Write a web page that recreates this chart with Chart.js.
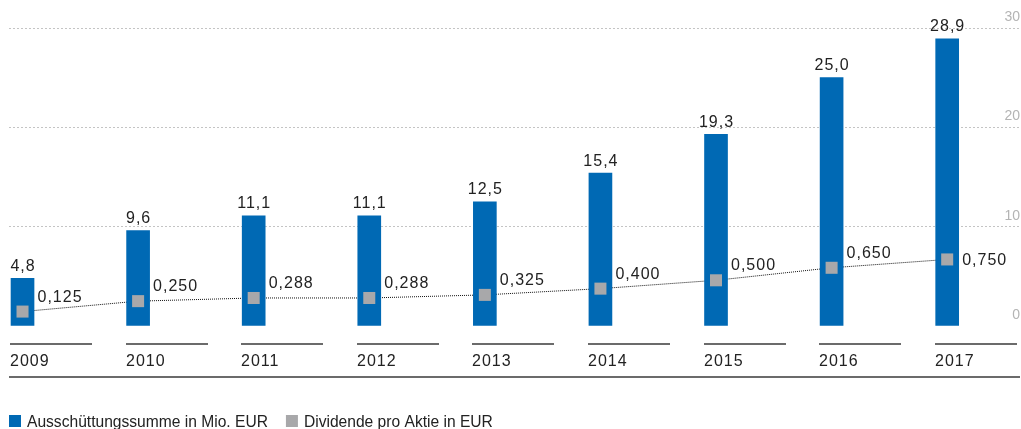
<!DOCTYPE html>
<html>
<head>
<meta charset="utf-8">
<script src="https://cdn.jsdelivr.net/npm/chart.js@4.4.1/dist/chart.umd.min.js"></script>
<style>
  html, body { margin: 0; padding: 0; background: #fff; }
  #wrap { width: 1021px; height: 429px; }
</style>
</head>
<body>
<div id="wrap"><canvas id="myChart" width="1021" height="429"></canvas></div>
<script>
var years = ['2009', '2010', '2011', '2012', '2013', '2014', '2015', '2016', '2017'];
var payout = [4.8, 9.6, 11.1, 11.1, 12.5, 15.4, 19.3, 25.0, 28.9];
var dividend = [0.125, 0.250, 0.288, 0.288, 0.325, 0.400, 0.500, 0.650, 0.750];
var payoutLabel = 'Ausschüttungssumme in Mio. EUR';
var dividendLabel = 'Dividende pro Aktie in EUR';

var blue = '#0069b4';
var grey = '#a8a8aa';
var dark = '#222222';
var rule = '#6b6b6b';
var FONT = '"Liberation Sans", Arial, Helvetica, sans-serif';

function toPoints(arr) {
    return arr.map(function (v, i) { return { x: i, y: v }; });
}
function comma(v, d) {
    return v.toFixed(d).replace('.', ',');
}

// value labels, year axis and legend
var extras = {
    id: 'extras',
    afterDatasetsDraw: function (chart) {
        var ctx = chart.ctx;
        ctx.save();
        ctx.font = '16px ' + FONT;
        ctx.letterSpacing = '1px';
        ctx.fillStyle = dark;
        ctx.textBaseline = 'alphabetic';

        // bar values
        ctx.textAlign = 'center';
        chart.getDatasetMeta(1).data.forEach(function (bar, i) {
            ctx.fillText(comma(payout[i], 1), bar.x + 0.5, bar.y - 7.5);
        });

        // dividend values
        ctx.textAlign = 'left';
        var pts = chart.getDatasetMeta(2).data;
        pts.forEach(function (p, i) {
            var dy = i === pts.length - 1 ? 6 : -10;
            ctx.fillText(comma(dividend[i], 3), p.x + 15, p.y + dy);
        });
        ctx.restore();
    },
    afterDraw: function (chart) {
        var ctx = chart.ctx;
        var xs = chart.scales.x;
        var area = chart.chartArea;
        ctx.save();

        // year segments + labels
        ctx.font = '16px ' + FONT;
        ctx.letterSpacing = '1px';
        ctx.textAlign = 'left';
        ctx.textBaseline = 'alphabetic';
        years.forEach(function (y, i) {
            var x0 = Math.round(xs.getPixelForValue(i) - 12.5);
            ctx.fillStyle = rule;
            ctx.fillRect(x0, 343, 82, 2);
            ctx.fillStyle = dark;
            ctx.fillText(y, x0, 366);
        });
        ctx.fillStyle = rule;
        ctx.fillRect(area.left, 376, area.right - area.left, 2);

        // legend
        ctx.letterSpacing = '0px';
        ctx.font = '15.6px ' + FONT;
        var items = [
            { text: payoutLabel, color: blue },
            { text: dividendLabel, color: grey }
        ];
        var x = 9;
        items.forEach(function (it) {
            ctx.fillStyle = it.color;
            ctx.fillRect(x, 415, 12, 12);
            ctx.fillStyle = dark;
            ctx.fillText(it.text, x + 18, 426.5);
            x += 18 + ctx.measureText(it.text).width + 18;
        });
        ctx.restore();
    }
};

var chart = new Chart(document.getElementById('myChart'), {
    type: 'bar',
    data: {
        datasets: [{
            type: 'line',
            label: dividendLabel + ' (line)',
            data: toPoints(dividend),
            yAxisID: 'y1',
            borderColor: '#111111',
            borderWidth: 1,
            borderDash: [1, 1],
            pointRadius: 0,
            fill: false,
            order: 3
        }, {
            type: 'bar',
            label: payoutLabel,
            data: toPoints(payout),
            yAxisID: 'y',
            backgroundColor: blue,
            barThickness: 23,
            order: 2
        }, {
            type: 'line',
            label: dividendLabel,
            data: toPoints(dividend),
            yAxisID: 'y1',
            showLine: false,
            pointStyle: 'rect',
            pointRadius: 8.5,
            pointBackgroundColor: grey,
            pointBorderWidth: 0,
            borderWidth: 0,
            order: 1
        }]
    },
    options: {
        responsive: false,
        animation: false,
        devicePixelRatio: 1,
        events: [],
        layout: { autoPadding: false, padding: { left: 9, right: 1, top: 28, bottom: 103 } },
        plugins: {
            legend: { display: false },
            tooltip: { enabled: false }
        },
        scales: {
            x: {
                type: 'linear',
                display: false,
                offset: false,
                min: -0.117,
                max: 8.63
            },
            y: {
                position: 'right',
                min: 0,
                max: 30,
                afterFit: function (scale) { scale.width = 0; },
                ticks: {
                    stepSize: 10,
                    mirror: true,
                    padding: 0,
                    labelOffset: -11,
                    color: '#b4b4b4',
                    font: { family: FONT, size: 14 }
                },
                grid: {
                    drawTicks: false,
                    lineWidth: 1,
                    color: function (c) {
                        return c.tick && c.tick.value === 0 ? 'rgba(0,0,0,0)' : '#c4c4c4';
                    }
                },
                border: { display: false, dash: [2, 2] }
            },
            y1: {
                display: false,
                min: -0.048,
                max: 3.525
            }
        }
    },
    plugins: [extras]
});
</script>
</body>
</html>
